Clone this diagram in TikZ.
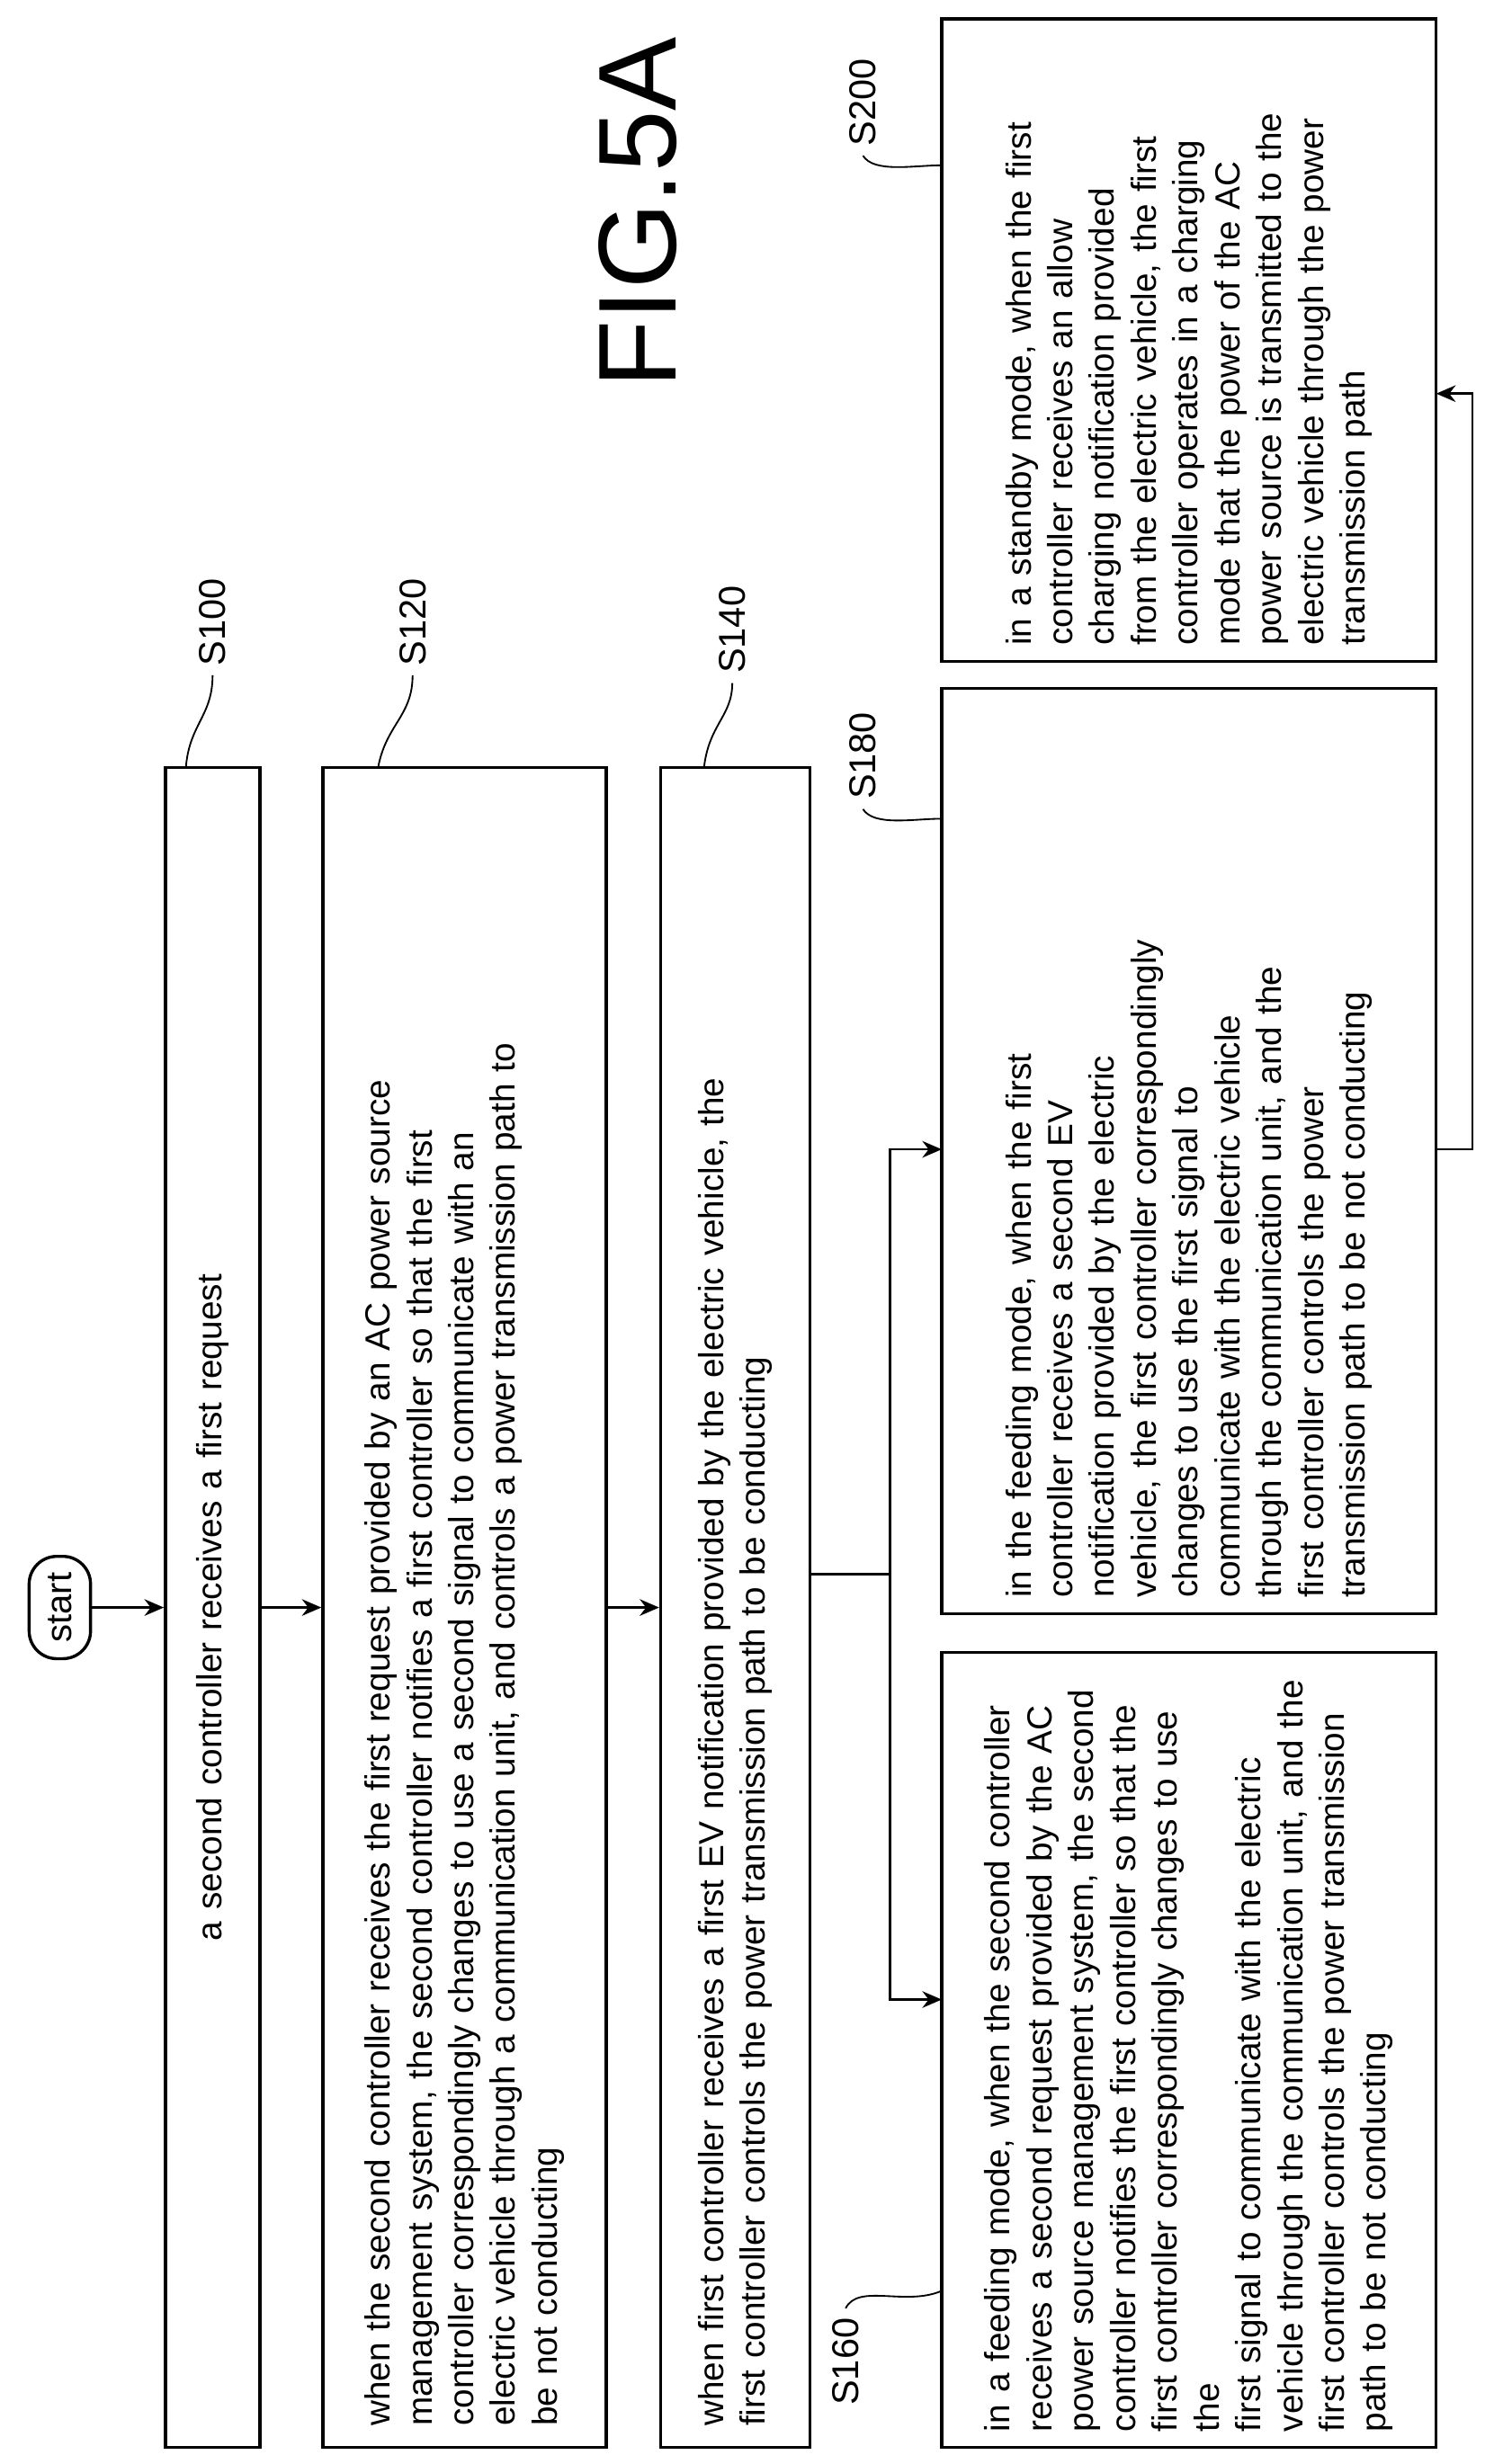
\documentclass[tikz,border=0pt]{standalone}
\usepackage{fontspec}
\setmainfont{Liberation Sans}
\usetikzlibrary{arrows.meta}
\begin{document}
\begin{tikzpicture}[x=0.02cm,y=-0.02cm,
  box/.style={draw,line width=1.1pt,rotate=90,align=left,inner sep=0pt,font=\fontsize{12.6}{15.1}\selectfont},
  lab/.style={rotate=90,font=\fontsize{13.5}{15}\selectfont},
  arr/.style={line width=0.9pt,-{Stealth[length=7pt,width=6pt]}},
  ln/.style={line width=0.9pt},
  lead/.style={line width=0.6pt}]
\useasboundingbox (0,0) rectangle (960,1565);
\node[draw,line width=1.1pt,rotate=90,rounded corners=10pt,minimum width=1.3cm,minimum height=0.78cm,font=\fontsize{13}{15}\selectfont] (start) at (38,1021) {start};
\node[box,minimum width=21.34cm,minimum height=1.2cm,text width=20cm,align=center] (s100) at (135,1021) {a second controller receives a first request};
\node[box,minimum width=21.34cm,minimum height=3.6cm,text width=20.8cm] (s120) at (295,1021) {when the second controller receives the first request provided by an AC power source\\ management system, the second controller notifies a first controller so that the first\\ controller correspondingly changes to use a second signal to communicate with an\\ electric vehicle through a communication unit, and controls a power transmission path to\\ be not conducting};
\node[box,minimum width=21.34cm,minimum height=1.9cm,text width=20.8cm] (s140) at (467,1021) {when first controller receives a first EV notification provided by the electric vehicle, the\\ first controller controls the power transmission path to be conducting};
\node[box,minimum width=10.1cm,minimum height=6.28cm,text width=9.7cm] (s160) at (755,1302) {in a feeding mode, when the second controller\\ receives a second request provided by the AC\\ power source management system, the second\\ controller notifies the first controller so that the\\ first controller correspondingly changes to use the\\ first signal to communicate with the electric\\ vehicle through the communication unit, and the\\ first controller controls the power transmission\\ path to be not conducting};
\node[box,minimum width=11.76cm,minimum height=6.28cm,text width=11.36cm] (s180) at (755,731) {in the feeding mode, when the first\\ controller receives a second EV\\ notification provided by the electric\\ vehicle, the first controller correspondingly\\ changes to use the first signal to\\ communicate with the electric vehicle\\ through the communication unit, and the\\ first controller controls the power\\ transmission path to be not conducting};
\node[box,minimum width=8.16cm,minimum height=6.28cm,text width=7.76cm] (s200) at (755,216) {in a standby mode, when the first\\ controller receives an allow\\ charging notification provided\\ from the electric vehicle, the first\\ controller operates in a charging\\ mode that the power of the AC\\ power source is transmitted to the\\ electric vehicle through the power\\ transmission path};
\node[rotate=90,font=\fontsize{40}{40}\selectfont] (fig) at (405,135) {FIG.5A};
% connectors
\draw[arr] (start.south) -- (s100.north);
\draw[arr] (s100.south) -- (s120.north);
\draw[arr] (s120.south) -- (s140.north);
\coordinate (j) at (565,1000);
\coordinate (ja) at (565,1270);
\coordinate (jb) at (565,730);
\coordinate (ta) at (598,1270);
\coordinate (tb) at (598,730);
\draw[ln] (s140.south |- j) -- (j);
\draw[arr] (j) -- (ja) -- (ta);
\draw[arr] (j) -- (jb) -- (tb);
\coordinate (f0) at (912,730);
\coordinate (f1) at (935,730);
\coordinate (f2) at (935,250);
\coordinate (f3) at (912,250);
\draw[arr] (f0) -- (f1) -- (f2) -- (f3);
% labels
\node[lab] (l100) at (135,395) {S100};
\node[lab] (l120) at (262,395) {S120};
\node[lab] (l140) at (465,400) {S140};
\node[lab] (l160) at (537,1500) {S160};
\node[lab] (l180) at (548,480) {S180};
\node[lab] (l200) at (548,65) {S200};
\draw[lead] (l100.west) .. controls (135,455) and (120,460) .. (118,488);
\draw[lead] (l120.west) .. controls (262,455) and (245,460) .. (240,488);
\draw[lead] (l140.west) .. controls (465,455) and (450,460) .. (447,488);
\draw[lead] (l160.east) .. controls (545,1450) and (575,1465) .. (598,1455);
\draw[lead] (l180.west) .. controls (555,525) and (580,520) .. (598,520);
\draw[lead] (l200.west) .. controls (555,110) and (580,105) .. (598,105);
\end{tikzpicture}
\end{document}
